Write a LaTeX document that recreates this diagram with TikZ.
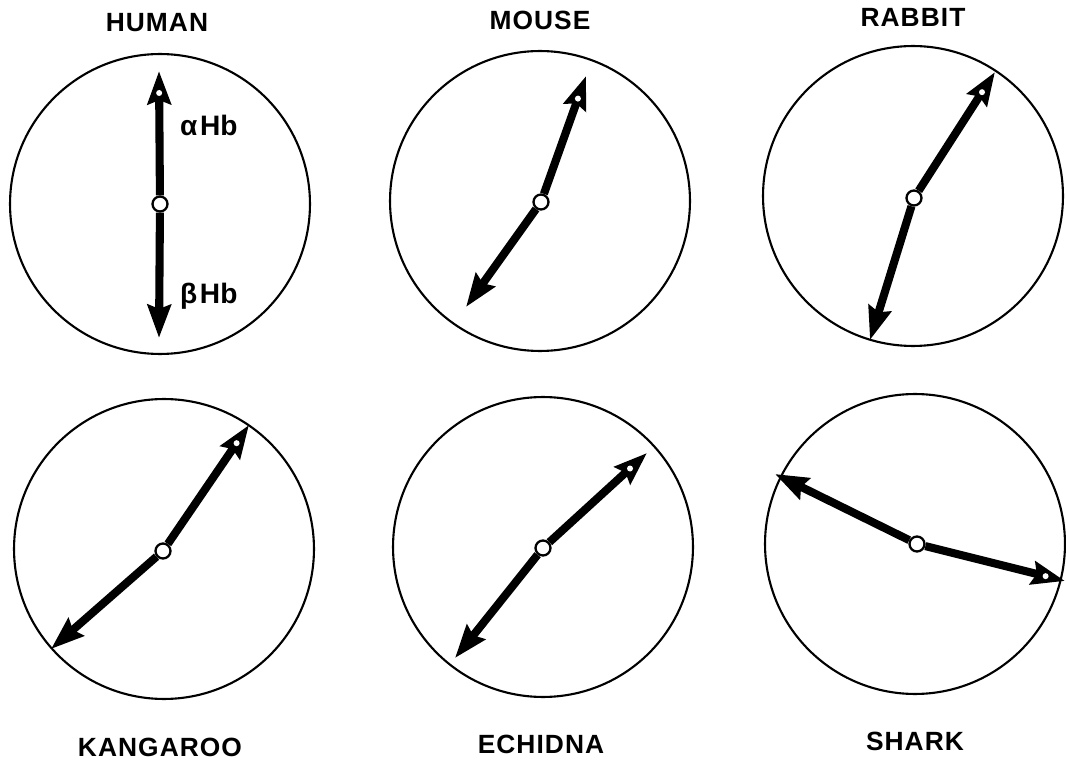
\documentclass[tikz,border=0pt]{standalone}
\usepackage{fontspec}
\setsansfont{Liberation Sans}
\usepackage{tikz}
\usetikzlibrary{arrows.meta,calc}

\begin{document}
\begin{tikzpicture}[x=0.02cm,y=-0.02cm,
  dial/.style={draw,circle,line width=1.2pt,minimum size=6cm,inner sep=0pt},
  pivot/.style={draw,circle,fill=white,line width=1.3pt,minimum size=0.3cm,inner sep=0pt},
  shaft/.style={line width=4.6pt,-{Stealth[length=0.66cm,width=0.46cm,inset=0.08cm]}},
  spot/.style={fill=white,circle,inner sep=0pt,minimum size=0.12cm},
  species/.style={font=\sffamily\bfseries\fontsize{15}{18}\selectfont\addfontfeatures{LetterSpace=4}},
  chain/.style={font=\sffamily\bfseries\fontsize{16}{19}\selectfont,anchor=west}]
\useasboundingbox (0,0) rectangle (1066,760);
% human
\node[dial] (hc) at (160,204) {};
\node[pivot] (hp) at (160,204) {};
\coordinate (ha) at (159,71);
\coordinate (hb) at (159,338);
\draw[shaft] (hp) -- (ha);
\draw[shaft] (hp) -- (hb);
\node[spot] (hd) at ($(ha)!0.44cm!(hp)$) {};
\node[chain] (hal) at (174,125) {α\kern1.5pt Hb};
\node[chain] (hbl) at (174,296) {β\kern1.5pt Hb};
\node[species] (hn) at (157,23) {HUMAN};
% mouse
\node[dial] (mc) at (540,201) {};
\node[pivot] (mp) at (541,202) {};
\coordinate (ma) at (586,76);
\coordinate (mb) at (466,307);
\draw[shaft] (mp) -- (ma);
\draw[shaft] (mp) -- (mb);
\node[spot] (md) at ($(ma)!0.48cm!(mp)$) {};
\node[species] (mn) at (540,20) {MOUSE};
% rabbit
\node[dial] (rc) at (913,196) {};
\node[pivot] (rp) at (914,198) {};
\coordinate (ra) at (995,72);
\coordinate (rb) at (870,340);
\draw[shaft] (rp) -- (ra);
\draw[shaft] (rp) -- (rb);
\node[spot] (rd) at ($(ra)!0.48cm!(rp)$) {};
\node[species] (rn) at (913,17) {RABBIT};
% kangaroo
\node[dial] (kc) at (164,549) {};
\node[pivot] (kp) at (163,551) {};
\coordinate (ka) at (249,425);
\coordinate (kb) at (51,649);
\draw[shaft] (kp) -- (ka);
\draw[shaft] (kp) -- (kb);
\node[spot] (kd) at ($(ka)!0.44cm!(kp)$) {};
\node[species] (kn) at (160,747) {KANGAROO};
% echidna
\node[dial] (ec) at (543,547) {};
\node[pivot] (ep) at (543,548) {};
\coordinate (ea) at (647,453);
\coordinate (eb) at (455,658);
\draw[shaft] (ep) -- (ea);
\draw[shaft] (ep) -- (eb);
\node[spot] (ed) at ($(ea)!0.46cm!(ep)$) {};
\node[species] (en) at (541,744) {ECHIDNA};
% shark
\node[dial] (sc) at (915,544) {};
\node[pivot] (sp) at (917,544) {};
\coordinate (sa) at (1065,581);
\coordinate (sb) at (775,474);
\draw[shaft] (sp) -- (sa);
\draw[shaft] (sp) -- (sb);
\node[spot] (sd) at ($(sa)!0.4cm!(sp)$) {};
\node[species] (sn) at (915,741) {SHARK};
\end{tikzpicture}
\end{document}
